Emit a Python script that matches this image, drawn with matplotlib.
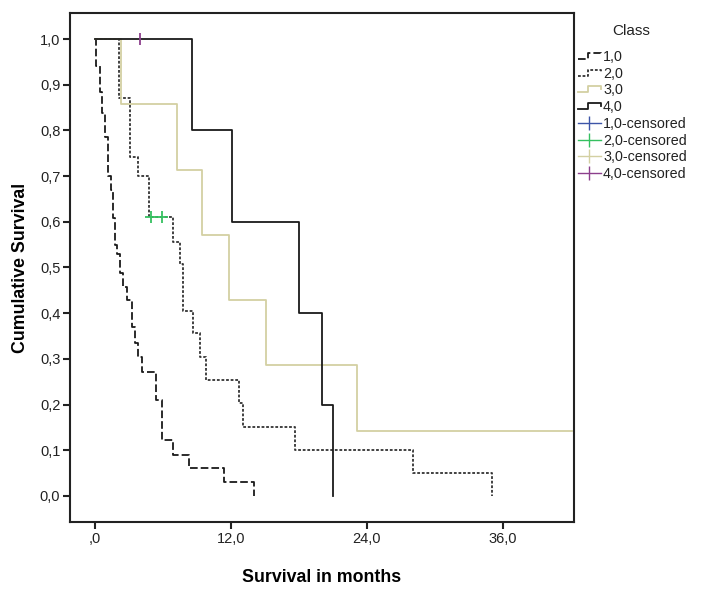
import matplotlib
matplotlib.use("Agg")
import matplotlib.pyplot as plt
from matplotlib.lines import Line2D
from matplotlib.legend_handler import HandlerBase

plt.rcParams['font.family'] = ['Liberation Sans', 'DejaVu Sans']
plt.rcParams['lines.scale_dashes'] = False

# ---- data ----
class_labels = ["1,0", "2,0", "3,0", "4,0"]

# Class 1,0 : step times (months) and survival after each step
t1 = [0, 0.11, 0.47, 0.62, 0.86, 1.15, 1.44, 1.62, 1.77, 1.97, 2.2, 2.5, 2.8,
      3.24, 3.53, 3.82, 4.12, 5.36, 5.89, 6.91, 8.3, 11.39, 14.06]
s1 = [1.0, 0.94, 0.885, 0.838, 0.786, 0.70, 0.67, 0.608, 0.549, 0.53, 0.488, 0.458, 0.429,
      0.37, 0.335, 0.305, 0.272, 0.21, 0.122, 0.09, 0.061, 0.031, 0.0]

# Class 2,0
t2 = [0, 2.12, 3.09, 3.77, 4.77, 6.91, 7.5, 7.74, 7.8, 8.68, 9.27, 9.77,
      12.71, 13.04, 17.71, 28.09, 35.07]
s2 = [1.0, 0.87, 0.742, 0.70, 0.611, 0.556, 0.507, 0.456, 0.405, 0.356, 0.304, 0.254,
      0.203, 0.152, 0.10, 0.05, 0.0]
cens2_t = [4.94, 5.91]
cens2_s = [0.611, 0.611]

# Class 3,0
t3 = [0, 2.33, 7.26, 9.42, 11.85, 15.09, 23.1, 42.1]
s3 = [1.0, 0.857, 0.714, 0.571, 0.429, 0.286, 0.143, 0.143]

# Class 4,0
t4 = [0, 8.53, 12.12, 18.03, 20.01, 21.03]
s4 = [1.0, 0.8, 0.6, 0.4, 0.2, 0.0]
cens4_t = [4.0]
cens4_s = [1.0]

x_ticks = [0, 12, 24, 36]
x_tick_labels = [",0", "12,0", "24,0", "36,0"]
y_ticks = [i / 10 for i in range(11)]
y_tick_labels = ["0,0", "0,1", "0,2", "0,3", "0,4", "0,5", "0,6", "0,7", "0,8", "0,9", "1,0"]

# ---- styles ----
KHAKI = '#d3d0a2'
C_BLUE = '#3d55a8'
C_GREEN = '#35c060'
C_PURPLE = '#8c3f8c'
LW = 1.3

fig = plt.figure(figsize=(7.08, 5.90), dpi=100)
ax = fig.add_axes([70 / 708, 68 / 590, 504 / 708, 509 / 590])

l1, = ax.step(t1, s1, where='post', color='#1a1a1a', lw=LW, dashes=(5.5, 2.2))
l2, = ax.step(t2, s2, where='post', color='#333333', lw=LW, dashes=(2.0, 1.3))
l3, = ax.step(t3, s3, where='post', color=KHAKI, lw=LW)
l4, = ax.step(t4, s4, where='post', color='#1a1a1a', lw=LW)

ax.plot(cens2_t, cens2_s, linestyle='none', marker='+', ms=8, mew=1.3, color=C_GREEN)
ax.plot(cens4_t, cens4_s, linestyle='none', marker='|', ms=9, mew=1.3, color=C_PURPLE)

ax.set_xlim(-2.2, 42.3)
ax.set_ylim(-0.057, 1.057)
ax.set_xticks(x_ticks)
ax.set_xticklabels(x_tick_labels)
ax.set_yticks(y_ticks)
ax.set_yticklabels(y_tick_labels)
ax.tick_params(axis='both', direction='out', length=5, width=1.5, labelsize=10.5,
               colors='#222222', pad=2)
for sp in ax.spines.values():
    sp.set_linewidth(1.5)
    sp.set_color('#222222')

ax.set_xlabel("Survival in months", fontsize=12.8, fontweight='bold', labelpad=17)
ax.set_ylabel("Cumulative Survival", fontsize=12.8, fontweight='bold', labelpad=8)


class StepHandler(HandlerBase):
    def create_artists(self, legend, orig_handle, xdescent, ydescent, width, height,
                       fontsize, trans):
        x0 = -xdescent
        y0 = -ydescent
        xs = [x0, x0 + 0.45 * width, x0 + 0.45 * width, x0 + width, x0 + width]
        ys = [y0 + 0.2 * height, y0 + 0.2 * height, y0 + 0.8 * height,
              y0 + 0.8 * height, y0 + 0.5 * height]
        ln = Line2D(xs, ys, color=orig_handle.get_color(), lw=orig_handle.get_linewidth())
        pattern = orig_handle._unscaled_dash_pattern[1]
        if pattern:
            ln.set_dashes(pattern)
        ln.set_transform(trans)
        return [ln]


cens_handles = [
    Line2D([], [], color=C_BLUE, lw=1.0, marker='|', ms=10, mew=1.0),
    Line2D([], [], color=C_GREEN, lw=1.0, marker='|', ms=10, mew=1.0),
    Line2D([], [], color=KHAKI, lw=1.0, marker='|', ms=10, mew=1.0),
    Line2D([], [], color=C_PURPLE, lw=1.0, marker='|', ms=10, mew=1.0),
]
handles = [l1, l2, l3, l4] + cens_handles
labels = class_labels + [c + "-censored" for c in class_labels]
hmap = {l1: StepHandler(), l2: StepHandler(), l3: StepHandler(), l4: StepHandler()}

fig.text(631 / 708, 1 - 31 / 590, "Class", fontsize=11, ha='center', va='center',
         color='#222222')

leg = fig.legend(handles, labels, handler_map=hmap, loc='upper left',
                 bbox_to_anchor=(578 / 708, 1 - 50 / 590), frameon=False,
                 fontsize=10.3, handlelength=1.6, handletextpad=0.15,
                 labelspacing=0.19, borderpad=0, borderaxespad=0)
for txt in leg.get_texts():
    txt.set_color('#222222')

fig.savefig("out.png", dpi=100)
